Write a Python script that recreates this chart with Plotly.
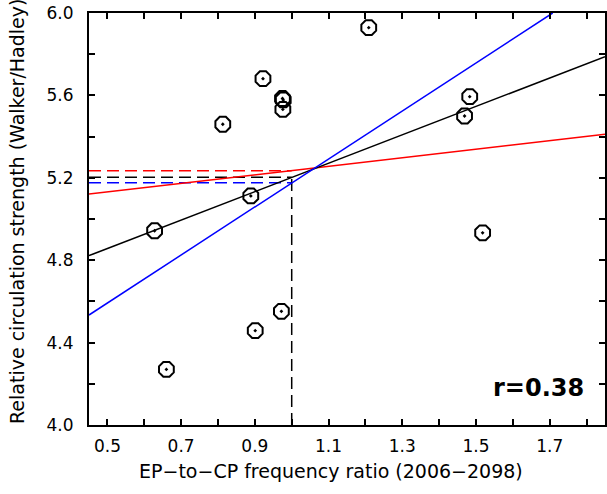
import plotly.graph_objects as go

# scatter data (EP-to-CP frequency ratio vs relative circulation strength)
ratio = [0.628, 0.660, 0.813, 0.889, 0.901, 0.922, 0.972, 0.975, 0.977, 0.976, 1.209, 1.469, 1.483, 1.518]
strength = [4.943, 4.270, 5.460, 5.112, 4.458, 5.681, 4.552, 5.585, 5.578, 5.532, 5.929, 5.500, 5.594, 4.933]

# regression lines (endpoints)
black_x = [0.45, 1.85]
black_y = [4.822, 5.788]
red_x = [0.45, 1.85]
red_y = [5.121, 5.411]
blue_x = [0.45, 1.708]
blue_y = [4.534, 6.0]

# values at ratio = 1.0
ref_ratio = 1.0
red_at_ref = 5.234
black_at_ref = 5.203
blue_at_ref = 5.176

x_ticks = [0.5, 0.6, 0.7, 0.8, 0.9, 1.0, 1.1, 1.2, 1.3, 1.4, 1.5, 1.6, 1.7, 1.8]
x_labels = ["0.5", "", "0.7", "", "0.9", "", "1.1", "", "1.3", "", "1.5", "", "1.7", ""]
y_ticks = [4.0, 4.2, 4.4, 4.6, 4.8, 5.0, 5.2, 5.4, 5.6, 5.8, 6.0]
y_labels = ["4.0", "", "4.4", "", "4.8", "", "5.2", "", "5.6", "", "6.0"]

W, H = 607, 494
L, R, T, B = 89, 2, 13, 69

fig = go.Figure()

dash = "12px,6px"
fig.add_trace(go.Scatter(x=[0.45, ref_ratio], y=[red_at_ref, red_at_ref], mode="lines",
                         line=dict(color="red", width=1.5, dash=dash)))
fig.add_trace(go.Scatter(x=[0.45, ref_ratio], y=[black_at_ref, black_at_ref], mode="lines",
                         line=dict(color="black", width=1.5, dash=dash)))
fig.add_trace(go.Scatter(x=[0.45, ref_ratio], y=[blue_at_ref, blue_at_ref], mode="lines",
                         line=dict(color="blue", width=1.5, dash=dash)))
fig.add_trace(go.Scatter(x=[ref_ratio, ref_ratio], y=[4.0, black_at_ref], mode="lines",
                         line=dict(color="black", width=1.5, dash=dash)))

fig.add_trace(go.Scatter(x=red_x, y=red_y, mode="lines", line=dict(color="red", width=1.5)))
fig.add_trace(go.Scatter(x=black_x, y=black_y, mode="lines", line=dict(color="black", width=1.5)))
fig.add_trace(go.Scatter(x=blue_x, y=blue_y, mode="lines", line=dict(color="blue", width=1.5)))

fig.add_trace(go.Scatter(x=ratio, y=strength, mode="markers",
                         marker=dict(symbol="octagon-open-dot", size=16, color="black",
                                     line=dict(color="black", width=2))))

fig.add_annotation(x=1.799, y=4.18, xref="x", yref="y", text="<b>r=0.38</b>", showarrow=False,
                   xanchor="right", yanchor="middle", font=dict(size=24, color="black", family="DejaVu Sans"))

# axis titles as annotations, positioned in paper pixels
fig.add_annotation(x=(331 - L) / (W - L - R), y=-(471 - (H - B)) / (H - T - B), xref="paper", yref="paper",
                   text="EP\u2212to\u2212CP frequency ratio (2006\u22122098)", showarrow=False,
                   xanchor="center", yanchor="middle", font=dict(size=19, color="black", family="DejaVu Sans"))
fig.add_annotation(x=-(L - 17) / (W - L - R), y=((H - B) - 212) / (H - T - B), xref="paper", yref="paper",
                   text="Relative circulation strength (Walker/Hadley)", showarrow=False, textangle=-90,
                   xanchor="center", yanchor="middle", font=dict(size=19, color="black", family="DejaVu Sans"))

axis_common = dict(showgrid=False, zeroline=False, showline=True, linecolor="black", linewidth=2,
                   mirror="ticks", ticks="inside", ticklen=6, tickwidth=1.5, tickcolor="black",
                   automargin=False,
                   tickfont=dict(size=17, color="black", family="DejaVu Sans"))

fig.update_layout(
    width=W, height=H,
    margin=dict(l=L, r=R, t=T, b=B),
    plot_bgcolor="white", paper_bgcolor="white",
    showlegend=False,
    font=dict(family="DejaVu Sans", color="black"),
    xaxis=dict(range=[0.45, 1.85], tickmode="array", tickvals=x_ticks, ticktext=x_labels,
               ticklabelstandoff=5, **axis_common),
    yaxis=dict(range=[4.0, 6.0], tickmode="array", tickvals=y_ticks, ticktext=y_labels,
               ticklabelstandoff=10, **axis_common),
)

post = ("document.body.style.margin='0';document.body.style.padding='0';"
        "document.body.style.overflow='hidden';"
        "Plotly.relayout(document.getElementById('{plot_id}'), {width: %d, height: %d});" % (W, H))
fig.write_html("out.html", post_script=post, config={"responsive": False, "displayModeBar": False})
